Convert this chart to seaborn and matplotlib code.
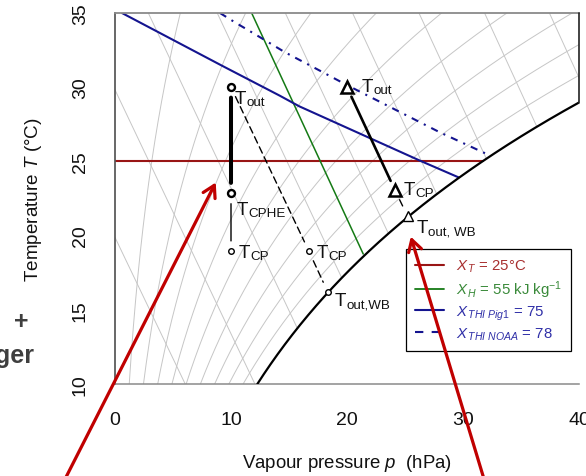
import numpy as np
import pandas as pd
import matplotlib
matplotlib.use('Agg')
import matplotlib.pyplot as plt
import seaborn as sns
from matplotlib.lines import Line2D
from matplotlib.patches import FancyArrowPatch

# ── values ───────────────────────────────────────────────────────────────────
RH_LEVELS = [0.1, 0.2, 0.3, 0.4, 0.5, 0.6, 0.7, 0.8, 0.9]     # relative humidity grid
H_LEVELS = [20, 30, 40, 50, 60, 70, 80, 90, 100]             # enthalpy grid, kJ/kg
P_AIR = 960                                                  # air pressure, hPa

# threshold lines (vapour pressure p in hPa, temperature T in degC)
TLIM_P = [0, 31.7];       TLIM_T = [25, 25]
HLIM_P = [11.78, 21.4];   HLIM_T = [35, 18.76]
PIG_P = [0.6, 9.22, 14.2, 15.89, 26.29, 29.6]
PIG_T = [35, 31.45, 29.43, 28.71, 25.05, 23.93]
NOAA_P = [9.05, 10.34, 11.9, 14.66, 17.67, 19.83, 28.0, 32.04]
NOAA_T = [35, 34.37, 33.65, 32.35, 31.11, 30.21, 26.96, 25.5]

# measured states: heat exchanger (circles) and cooling pad (triangles)
HX_NAMES = ['out', 'CPHE', 'CP']
HX_P = [10, 10, 10]
HX_T = [30, 22.85, 18.94]
CPC_NAMES = ['CP', 'out,WB']
CPC_P = [16.72, 18.33]
CPC_T = [18.94, 16.22]
CP_NAMES = ['out', 'CP', 'out, WB']
CP_P = [20, 24.14, 25.23]
CP_T = [30, 23.05, 21.3]

RED, GREEN, BLUE = '#991515', '#157a15', '#14148f'
GRID = '#c6c6c6'

sns.set_theme(style='white')
plt.rcParams['font.family'] = ['Liberation Sans', 'DejaVu Sans']
plt.rcParams['mathtext.fontset'] = 'custom'
plt.rcParams['mathtext.rm'] = 'Liberation Sans'
plt.rcParams['mathtext.it'] = 'Liberation Sans:italic'
plt.rcParams['mathtext.bf'] = 'Liberation Sans:bold'


def psat(t):
    return 6.112 * np.exp(17.67 * t / (t + 243.5))


fig = plt.figure(figsize=(5.86, 4.77), dpi=100)
ax = fig.add_axes([115 / 586, 1 - 385 / 477, 464 / 586, 371 / 477])

# ── psychrometric grid ───────────────────────────────────────────────────────
tt = np.linspace(10, 35, 600)
for rh in RH_LEVELS:
    ax.plot(rh * psat(tt), tt, color=GRID, lw=0.7, zorder=1)
tg = np.linspace(0, 35, 4000)
for h in H_LEVELS:
    x = (h - 1.006 * tg) / (2501 + 1.86 * tg)
    p = P_AIR * x / (0.622 + x)
    keep = (x >= 0) & (p <= psat(tg))
    ax.plot(p[keep], tg[keep], color=GRID, lw=0.7, zorder=1)

# saturation curve and right border
t40 = 243.5 * np.log(40 / 6.112) / (17.67 - np.log(40 / 6.112))
ts = np.linspace(10, t40, 400)
ax.plot(psat(ts), ts, color='black', lw=1.6, zorder=3)
ax.plot([40, 40], [t40, 35], color='#222222', lw=1.2, zorder=3, clip_on=False)

# ── threshold lines ─────────────────────────────────────────────────────────
lines = pd.concat([
    pd.DataFrame({'p': TLIM_P, 'T': TLIM_T, 'k': 'T'}),
    pd.DataFrame({'p': HLIM_P, 'T': HLIM_T, 'k': 'H'}),
    pd.DataFrame({'p': PIG_P, 'T': PIG_T, 'k': 'Pig'}),
])
sns.lineplot(data=lines, x='p', y='T', hue='k', sort=False, estimator=None,
             palette={'T': RED, 'H': GREEN, 'Pig': BLUE}, legend=False, ax=ax, zorder=2)
for ln, w in zip(ax.lines[-3:], [1.5, 1.1, 1.5]):
    ln.set_linewidth(w)
sns.lineplot(x=NOAA_P, y=NOAA_T, sort=False, estimator=None, color=BLUE, lw=1.5,
             ls=(0, (3.5, 3, 1, 3)), ax=ax, zorder=2)


# ── state points and process lines ──────────────────────────────────────────
def seg(a, b, lw, ls='-'):
    ax.annotate('', xy=b, xytext=a, zorder=4,
                arrowprops=dict(arrowstyle='-', color='black', lw=lw, linestyle=ls,
                                shrinkA=7.5, shrinkB=7.5))


hx = list(zip(HX_P, HX_T)); cpc = list(zip(CPC_P, CPC_T)); cp = list(zip(CP_P, CP_T))
seg(hx[0], hx[1], 2.9)
seg(hx[1], hx[2], 1.0)
seg(hx[0], cpc[0], 1.0, (0, (5, 3)))
seg(cpc[0], cpc[1], 1.0, (0, (5, 3)))
seg(cp[0], cp[1], 1.9)
seg(cp[1], cp[2], 1.0, (0, (5, 3)))

ax.plot(HX_P[:2], HX_T[:2], 'o', ms=5, mew=1.7, mfc='white', mec='black', zorder=5)
ax.plot(HX_P[2:] + CPC_P, HX_T[2:] + CPC_T, 'o', ms=4, mew=1.0, mfc='white', mec='black', zorder=5)
ax.plot(CP_P[:2], CP_T[:2], '^', ms=8, mew=1.8, mfc='white', mec='black', zorder=5)
ax.plot(CP_P[2:], CP_T[2:], '^', ms=6.5, mew=1.0, mfc='white', mec='black', zorder=5)

label_pos = [(10.34, 28.94), (10.52, 21.46), (10.63, 18.56),
             (17.39, 18.56), (18.97, 15.32),
             (21.27, 29.74), (24.86, 22.8), (26.0, 20.24)]
names = HX_NAMES + CPC_NAMES + CP_NAMES
for (lx, ly), nm in zip(label_pos, names):
    ax.text(lx, ly, 'T', fontsize=13.5, color='#111111', va='baseline', ha='left', zorder=6)
    ax.annotate(nm, xy=(lx, ly), xytext=(8.4, -1.6), textcoords='offset points',
                fontsize=9.6, color='#111111', va='baseline', ha='left', zorder=6)

# ── axes ───────────────────────────────────────────────────────────────────
ax.set_xlim(0, 40)
ax.set_ylim(10, 35)
ax.set_xticks([0, 10, 20, 30, 40])
ax.set_yticks([10, 15, 20, 25, 30, 35])
ax.tick_params(axis='both', direction='out', length=5.8, width=0.9, color='#555555',
               labelsize=14, labelcolor='#111111')
ax.tick_params(axis='y', pad=13)
ax.tick_params(axis='x', pad=13.5)
for lab in ax.get_yticklabels():
    lab.set_rotation(90)
    lab.set_va('center')
ax.spines['right'].set_visible(False)
ax.spines['left'].set_color('#555555')
ax.spines['top'].set_color('#8a8a8a')
ax.spines['top'].set_linewidth(1.3)
ax.spines['bottom'].set_color('#8a8a8a')
ax.spines['bottom'].set_linewidth(1.1)
ax.set_xlabel(''); ax.set_ylabel('')
fig.text(34 / 586, 1 - 200 / 477, r'Temperature $T$ (°C)', rotation=90,
         ha='center', va='center', fontsize=13.6, color='#111111')
fig.text(347 / 586, 1 - 464 / 477, r'Vapour pressure $p$  (hPa)',
         ha='center', va='center', fontsize=13.4, color='#111111')

handles = [Line2D([], [], color=RED, lw=1.5), Line2D([], [], color=GREEN, lw=1.3),
           Line2D([], [], color=BLUE, lw=1.5), Line2D([], [], color=BLUE, lw=1.5, ls=(0, (4, 4)))]
labels = [r'$X_{\,T}$ = 25°C', r'$X_{\,H}$ = 55 kJ kg$^{-1}$',
          r'$X_{\,\mathit{THI\ Pig1}}$ = 75', r'$X_{\,\mathit{THI\ NOAA}}$ = 78']
leg = ax.legend(handles, labels, loc='lower right', bbox_to_anchor=(0.983, 0.089),
                borderaxespad=0, fontsize=10.8, handlelength=1.9, handletextpad=0.8,
                labelspacing=0.25, fancybox=False, framealpha=1, edgecolor='black',
                borderpad=0.6)
leg.get_frame().set_linewidth(0.9)
for txt, c in zip(leg.get_texts(), ['#a83030', '#3a8a3a', '#3030a8', '#3030a8']):
    txt.set_color(c)

# ── slide overlay: red arrows and clipped text ─────────────────────────────
def fpx(x, y):
    return (x / 586, 1 - y / 477)


for tail, head in [((60, 490), (217, 181)), ((487, 490), (410, 235))]:
    fig.add_artist(FancyArrowPatch(fpx(*tail), fpx(*head), transform=fig.transFigure,
                                   arrowstyle='->,head_length=0.55,head_width=0.32',
                                   mutation_scale=15, color='#c00000', lw=2.3, zorder=10))
fig.text(21 / 586, 1 - 322 / 477, '+', fontsize=18, fontweight='bold', color='#3f3f3f',
         ha='center', va='center')
fig.text(34 / 586, 1 - 363 / 477, 'ger', fontsize=18, fontweight='bold', color='#3f3f3f',
         ha='right', va='baseline')

plt.savefig('out.png', dpi=100)
plt.close()
